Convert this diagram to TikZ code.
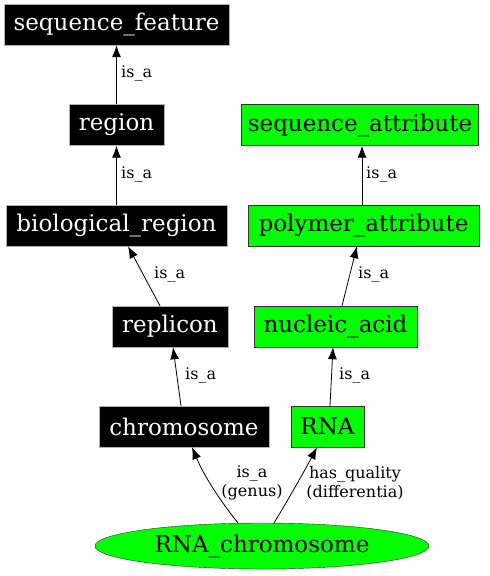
\documentclass[tikz,border=0pt]{standalone}
\usepackage{fontspec}
\setmainfont{DejaVu Serif}
\usetikzlibrary{shapes.geometric,arrows.meta}
\begin{document}
\begin{tikzpicture}[x=1pt,y=-1pt,
  blk/.style={draw=gray!60, fill=black, text=white, font=\fontsize{23}{26}\selectfont, inner sep=0pt, minimum height=41pt},
  grn/.style={draw=black!80, fill=green, text=black, font=\fontsize{23}{26}\selectfont, inner sep=0pt, minimum height=41pt},
  lbl/.style={font=\fontsize{16}{19}\selectfont, align=center, inner sep=0pt},
  arr/.style={-{Latex[length=12pt,width=9pt]}, line width=0.8pt}]
\useasboundingbox (0,0) rectangle (490,576);
\node[blk, minimum width=225pt] (sf) at (116.5,24.5) {sequence\_feature};
\node[blk, minimum width=95pt] (reg) at (116.5,125) {region};
\node[blk, minimum width=221pt] (br) at (116.5,225.5) {biological\_region};
\node[blk, minimum width=116pt] (rep) at (170,326.5) {replicon};
\node[blk, minimum width=170pt] (chr) at (184,426.5) {chromosome};
\node[grn, minimum width=237pt] (sa) at (360,125) {sequence\_attribute};
\node[grn, minimum width=231pt] (pa) at (363.5,225.5) {polymer\_attribute};
\node[grn, minimum width=163pt] (na) at (335.5,326.5) {nucleic\_acid};
\node[grn, minimum width=73pt] (rna) at (327.5,426.5) {RNA};
\node[ellipse, draw=black!80, fill=green, font=\fontsize{23}{26}\selectfont, minimum width=334pt, minimum height=46pt, inner sep=0pt] (rc) at (262,546) {RNA\_chromosome};
\draw[arr] (reg.north) -- (sf.south);
\node[lbl, anchor=west] at (121,73) {is\_a};
\draw[arr] (br.north) -- (reg.south);
\node[lbl, anchor=west] at (121,174) {is\_a};
\draw[arr] (rep.north -| 160,0) -- (br.south -| 128,0);
\node[lbl, anchor=west] at (154,274) {is\_a};
\draw[arr] (chr.north -| 181,0) -- (rep.south -| 173,0);
\node[lbl, anchor=west] at (185,375) {is\_a};
\draw[arr] (pa.north -| 362,0) -- (sa.south -| 362,0);
\node[lbl, anchor=west] at (366,174) {is\_a};
\draw[arr] (na.north -| 342,0) -- (pa.south -| 357,0);
\node[lbl, anchor=west] at (358,274) {is\_a};
\draw[arr] (rna.north -| 330,0) -- (na.south -| 333,0);
\node[lbl, anchor=west] at (339,375) {is\_a};
\draw[arr] (238,523) .. controls (222,503) and (205,478) .. (chr.south -| 192,0);
\node[lbl] at (252,483) {is\_a\\(genus)};
\draw[arr] (274,523) .. controls (288,500) and (305,470) .. (rna.south -| 317,0);
\node[lbl] at (355,483) {has\_quality\\(differentia)};
\end{tikzpicture}
\end{document}
